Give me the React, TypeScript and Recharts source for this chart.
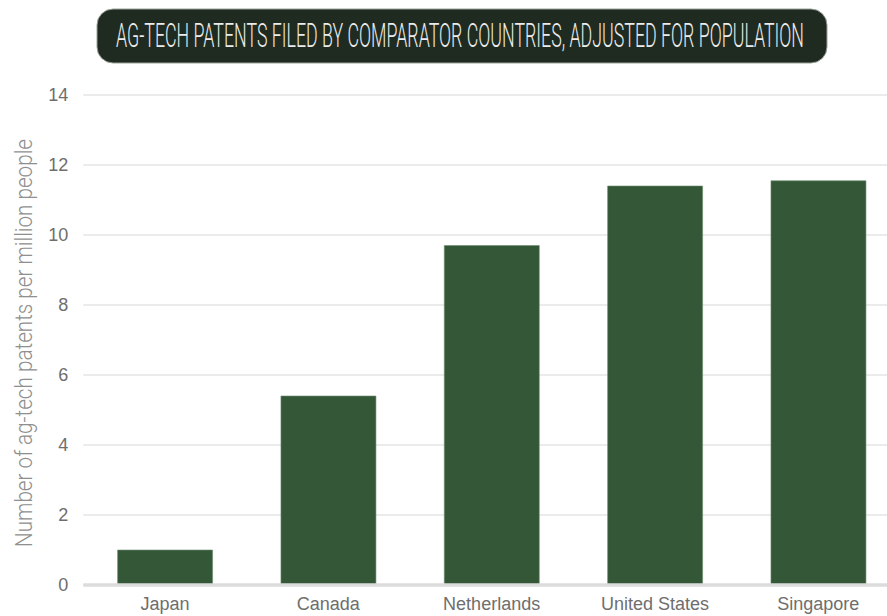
import React from "react";
import { BarChart, Bar, XAxis, YAxis, CartesianGrid } from "recharts";

const countries = ["Japan", "Canada", "Netherlands", "United States", "Singapore"];
const patentsPerMillion = [1.0, 5.4, 9.7, 11.4, 11.55];
const yTicks = [0, 2, 4, 6, 8, 10, 12, 14];

const data = countries.map((name, i) => ({ name, value: patentsPerMillion[i] }));

const condensed = "Roboto, 'Liberation Sans Narrow', sans-serif";
const tickFont = "'Liberation Sans', Arial, Helvetica, sans-serif";

export default function App() {
  return (
    <div style={{ position: "absolute", left: 0, top: 0, width: 887, height: 616, overflow: "hidden", background: "#fff" }}>
      <BarChart
        width={900}
        height={616}
        data={data}
        margin={{ top: 95, right: 0, bottom: 1, left: 0 }}
        barCategoryGap="21%"
      >
        <CartesianGrid vertical={false} stroke="#e4e4e4" strokeWidth={1.5} />
        <XAxis
          dataKey="name"
          tickLine={false}
          tickSize={0}
          tickMargin={12}
          axisLine={{ stroke: "#dcdcdc", strokeWidth: 3.5 }}
          tick={{ fill: "#6e6e6e", fontSize: 18, fontFamily: tickFont }}
          interval={0}
        />
        <YAxis
          width={83.3}
          domain={[0, 14]}
          ticks={yTicks}
          tickLine={false}
          axisLine={false}
          tickSize={0}
          tickMargin={15}
          tick={{ fill: "#6e6e6e", fontSize: 18, fontFamily: tickFont }}
          label={{
            content: () => (
              <text
                transform="translate(32,343) rotate(-90)"
                textAnchor="middle"
                fontSize={24}
                fontWeight={300}
                fontFamily={condensed}
                fill="#8f8f8f"
                textLength={408}
                lengthAdjust="spacingAndGlyphs"
              >
                Number of ag-tech patents per million people
              </text>
            ),
          }}
        />
        <Bar dataKey="value" fill="#335737" stroke="#6f8f72" strokeWidth={0.6} isAnimationActive={false} />
      </BarChart>

      {/* title badge */}
      <svg style={{ position: "absolute", left: 0, top: 0 }} width={887} height={70}>
        <rect x={97} y={9} width={730} height={54} rx={16} fill="#1f2b20" stroke="#9aa39a" strokeWidth={1} />
        <text
          x={116}
          y={47}
          fontSize={33}
          fontWeight={300}
          fontFamily={condensed}
          fill="#ececec"
          textLength={688}
          lengthAdjust="spacingAndGlyphs"
        >
          AG-TECH PATENTS FILED BY COMPARATOR COUNTRIES, ADJUSTED FOR POPULATION
        </text>
      </svg>
    </div>
  );
}
